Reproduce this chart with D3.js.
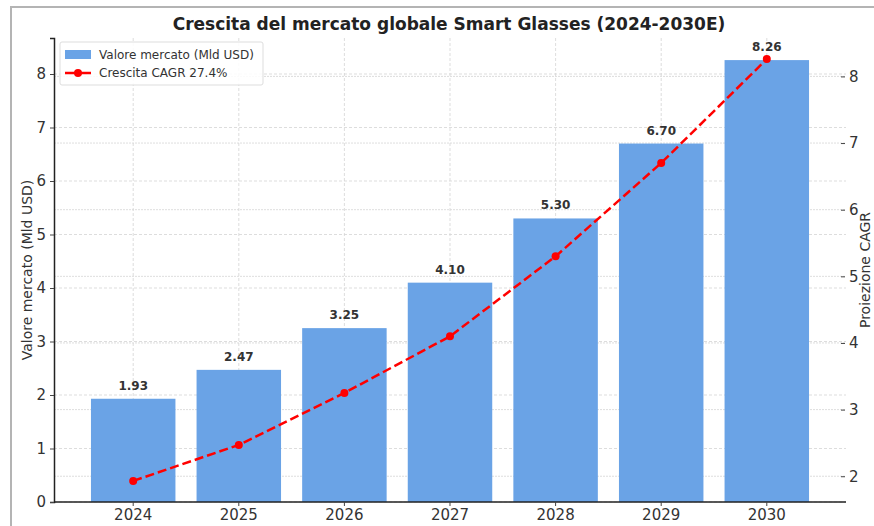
<!DOCTYPE html>
<html>
<head>
<meta charset="utf-8">
<script src="https://cdn.jsdelivr.net/npm/d3@7"></script>
<style>
  body { margin: 0; background: #fff; }
  svg { font-family: "DejaVu Sans", sans-serif; }
</style>
</head>
<body>
<div id="viz"></div>
<script>
var years = ["2024", "2025", "2026", "2027", "2028", "2029", "2030"];
var marketValues = [1.93, 2.47, 3.25, 4.10, 5.30, 6.70, 8.26];
var cagrValues = [1.93, 2.47, 3.25, 4.10, 5.30, 6.70, 8.26];
var leftTicks = [0, 1, 2, 3, 4, 5, 6, 7, 8];
var rightTicks = [2, 3, 4, 5, 6, 7, 8];

var width = 874, height = 526;
var plotLeft = 54, plotRight = 846, plotTop = 38, plotBottom = 502;

var svg = d3.select("#viz").append("svg")
  .attr("width", width).attr("height", height);

// screenshot frame
svg.append("path")
  .attr("d", "M11,526 V7 H874")
  .attr("fill", "none").attr("stroke", "#b4b4b4").attr("stroke-width", 2);

var x = d3.scaleBand().domain(years).range([plotLeft, plotRight])
  .paddingInner(0.2).paddingOuter(0.35);

var yLeft = d3.scaleLinear().domain([0, 8.26 * 1.05]).range([plotBottom, plotTop]);
var span = 8.26 - 1.93;
var yRight = d3.scaleLinear().domain([1.93 - 0.05 * span, 8.26 + 0.05 * span]).range([plotBottom, plotTop]);

var grid = svg.append("g");
// vertical grid
grid.selectAll(".vg").data(years).enter().append("line")
  .attr("x1", function(d) { return x(d) + x.bandwidth() / 2; })
  .attr("x2", function(d) { return x(d) + x.bandwidth() / 2; })
  .attr("y1", plotTop).attr("y2", plotBottom)
  .attr("stroke", "#d4d4d4").attr("stroke-dasharray", "3,2").attr("stroke-width", 0.8);
// horizontal grids (left axis + right axis)
grid.selectAll(".hl").data(leftTicks).enter().append("line")
  .attr("x1", plotLeft).attr("x2", plotRight)
  .attr("y1", function(d) { return yLeft(d); }).attr("y2", function(d) { return yLeft(d); })
  .attr("stroke", "#d4d4d4").attr("stroke-dasharray", "3,2").attr("stroke-width", 0.8);
grid.selectAll(".hr").data(rightTicks).enter().append("line")
  .attr("x1", plotLeft).attr("x2", plotRight)
  .attr("y1", function(d) { return yRight(d); }).attr("y2", function(d) { return yRight(d); })
  .attr("stroke", "#d4d4d4").attr("stroke-dasharray", "2,1").attr("stroke-width", 0.8);

// bars
svg.selectAll(".bar").data(marketValues).enter().append("rect")
  .attr("x", function(d, i) { return x(years[i]); })
  .attr("width", x.bandwidth())
  .attr("y", function(d) { return yLeft(d); })
  .attr("height", function(d) { return plotBottom - yLeft(d); })
  .attr("fill", "#6aa3e6");

// value labels
svg.selectAll(".val").data(marketValues).enter().append("text")
  .attr("x", function(d, i) { return x(years[i]) + x.bandwidth() / 2; })
  .attr("y", function(d) { return yLeft(d) - 9; })
  .attr("text-anchor", "middle")
  .attr("font-size", 12).attr("font-weight", "bold").attr("fill", "#333")
  .text(function(d) { return d.toFixed(2); });

// axes
var xAxis = svg.append("g").attr("transform", "translate(0," + plotBottom + ")")
  .call(d3.axisBottom(x).tickSizeOuter(0).tickSize(4).tickPadding(3));
var lAxis = svg.append("g").attr("transform", "translate(" + plotLeft + ",0)")
  .call(d3.axisLeft(yLeft).tickValues(leftTicks).tickFormat(d3.format("d"))
    .tickSizeOuter(0).tickSize(4).tickPadding(4));
var rAxis = svg.append("g").attr("transform", "translate(" + (plotRight - 5) + ",0)")
  .call(d3.axisRight(yRight).tickValues(rightTicks).tickFormat(d3.format("d"))
    .tickSize(4).tickPadding(4));
rAxis.select(".domain").remove();
xAxis.select(".domain").attr("d", "M" + plotLeft + ",0H" + plotRight).attr("stroke", "#222").attr("stroke-width", 1.5);
lAxis.select(".domain").attr("stroke", "#222").attr("stroke-width", 1.5);
svg.selectAll(".tick text").attr("font-size", 15).attr("fill", "#333")
  .attr("font-family", "DejaVu Sans, sans-serif");
svg.selectAll(".tick line").attr("stroke", "#444");

// line
var line = d3.line()
  .x(function(d, i) { return x(years[i]) + x.bandwidth() / 2; })
  .y(function(d) { return yRight(d); });
svg.append("path").datum(cagrValues)
  .attr("d", line).attr("fill", "none")
  .attr("stroke", "#f00").attr("stroke-width", 2.5).attr("stroke-dasharray", "9,4");
svg.selectAll(".pt").data(cagrValues).enter().append("circle")
  .attr("cx", function(d, i) { return x(years[i]) + x.bandwidth() / 2; })
  .attr("cy", function(d) { return yRight(d); })
  .attr("r", 4).attr("fill", "#f00");

// title & axis labels
svg.append("text").attr("x", 449).attr("y", 30).attr("text-anchor", "middle")
  .attr("font-size", 17).attr("font-weight", "bold").attr("fill", "#222")
  .text("Crescita del mercato globale Smart Glasses (2024-2030E)");
svg.append("text").attr("transform", "translate(32,270) rotate(-90)")
  .attr("text-anchor", "middle").attr("font-size", 14).attr("fill", "#333")
  .text("Valore mercato (Mld USD)");
svg.append("text").attr("transform", "translate(870,270) rotate(-90)")
  .attr("text-anchor", "middle").attr("font-size", 14).attr("fill", "#333")
  .text("Proiezione CAGR");

// legend
var lg = svg.append("g").attr("transform", "translate(60,42)");
lg.append("rect").attr("width", 203).attr("height", 43).attr("rx", 2)
  .attr("fill", "#fff").attr("fill-opacity", 0.85).attr("stroke", "#ddd");
lg.append("rect").attr("x", 5).attr("y", 8).attr("width", 26).attr("height", 9).attr("fill", "#6aa3e6");
lg.append("text").attr("x", 39).attr("y", 17).attr("font-size", 12).attr("fill", "#333")
  .text("Valore mercato (Mld USD)");
lg.append("line").attr("x1", 5).attr("x2", 31).attr("y1", 31).attr("y2", 31)
  .attr("stroke", "#f00").attr("stroke-width", 2.5);
lg.append("circle").attr("cx", 18).attr("cy", 31).attr("r", 4).attr("fill", "#f00");
lg.append("text").attr("x", 39).attr("y", 35).attr("font-size", 12).attr("fill", "#333")
  .text("Crescita CAGR 27.4%");
</script>
</body>
</html>
